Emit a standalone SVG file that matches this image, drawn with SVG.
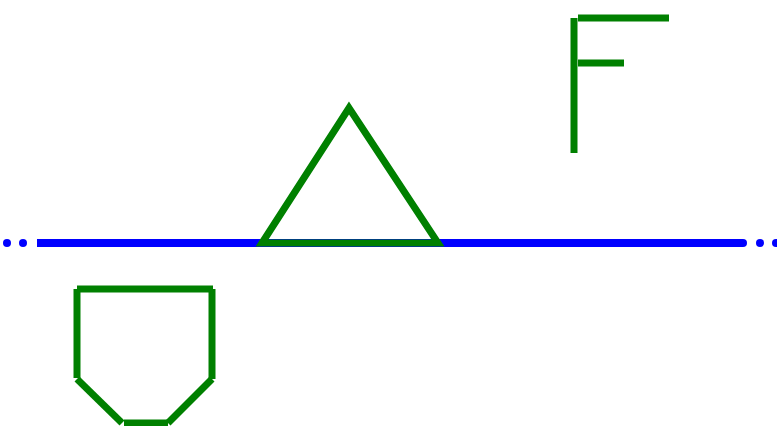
<svg xmlns="http://www.w3.org/2000/svg" width="777" height="426" viewBox="0 0 777 426">
<style>
.g{stroke:#008000;stroke-width:7;fill:none;stroke-linecap:butt}
.b{stroke:#0000ff;stroke-width:8;fill:none}
.d{fill:#0000ff}
</style>
<rect width="777" height="426" fill="#fff"/>
<g id="axis">
<line class="b" x1="37" y1="243" x2="743" y2="243" stroke-linecap="butt"/>
<circle class="d" cx="743" cy="243" r="4"/>
<circle class="d" cx="7" cy="243" r="4"/>
<circle class="d" cx="23" cy="243" r="4"/>
<circle class="d" cx="760" cy="243" r="4"/>
<circle class="d" cx="776" cy="243" r="4"/>
</g>
<g id="triangle">
<polygon class="g" points="262,243 349,108 438,243" stroke-linejoin="miter"/>
</g>
<g id="letterF">
<line class="g" x1="574" y1="18" x2="574" y2="153"/>
<line class="g" x1="578" y1="18" x2="669" y2="18"/>
<line class="g" x1="578" y1="63" x2="624" y2="63"/>
</g>
<g id="pentagon">
<line class="g" x1="77" y1="289" x2="213" y2="289"/>
<line class="g" x1="212" y1="289" x2="212" y2="379"/>
<line class="g" x1="212" y1="379" x2="168" y2="423"/>
<line class="g" x1="168" y1="423" x2="124" y2="423"/>
<line class="g" x1="122" y1="423" x2="77" y2="379"/>
<line class="g" x1="77" y1="378" x2="77" y2="289"/>
</g>
</svg>
